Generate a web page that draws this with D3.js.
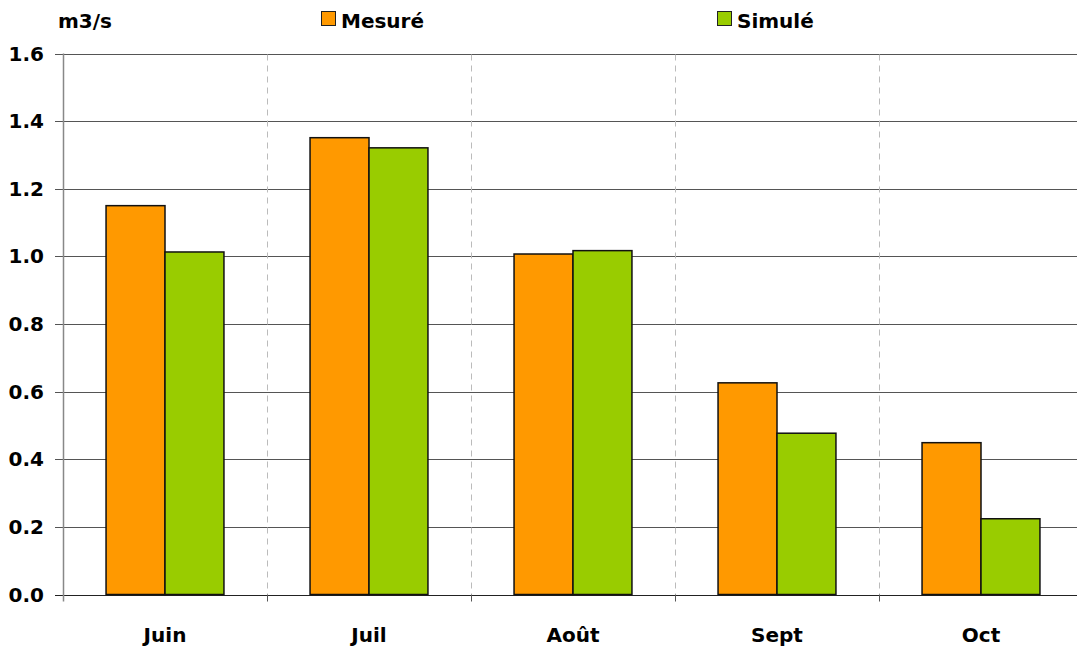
<!DOCTYPE html>
<html><head><meta charset="utf-8">
<script src="https://cdn.jsdelivr.net/npm/d3@7"></script>
<style>body{margin:0;background:#fff}svg{display:block}text{font-family:"DejaVu Sans",sans-serif;font-weight:bold;fill:#000}</style>
</head><body>
<svg id="c" width="1077" height="650"></svg>
<script>
const categories = ["Juin","Juil","Août","Sept","Oct"];
const seriesNames = ["Mesuré","Simulé"];
const mesure = [1.150, 1.351, 1.007, 0.626, 0.449];
const simule = [1.013, 1.321, 1.017, 0.477, 0.224];
const yTicks = [0,0.2,0.4,0.6,0.8,1.0,1.2,1.4,1.6];
const colors = ["#FF9900","#99CC00"];

const svg = d3.select("#c");
const x0 = d3.scaleBand().domain(categories).range([63,1083]).padding(0);
const step = x0.bandwidth();
const x1 = d3.scaleBand().domain(seriesNames).range([step*0.211, step*0.789]).padding(0);
const y = d3.scaleLinear().domain([0,1.6]).range([594.5,53.5]);
const r = v => Math.round(v)+0.5;

// gridlines
svg.append("g").selectAll("line").data(yTicks).join("line")
  .attr("x1",55).attr("x2",1077).attr("y1",d=>r(y(d))).attr("y2",d=>r(y(d)))
  .attr("stroke",d=>d===0?"#222":"#555").attr("stroke-width",1);
// dashed category separators
svg.append("g").selectAll("line").data(categories.slice(1)).join("line")
  .attr("x1",d=>r(x0(d))).attr("x2",d=>r(x0(d)))
  .attr("y1",y(1.6)+1).attr("y2",y(0))
  .attr("stroke","#bbb").attr("stroke-dasharray","6,5");
// bottom ticks
svg.append("g").selectAll("line").data(categories.slice(1)).join("line")
  .attr("x1",d=>r(x0(d))).attr("x2",d=>r(x0(d)))
  .attr("y1",y(0)).attr("y2",y(0)+7).attr("stroke","#555");
// y axis line
svg.append("line").attr("x1",63.5).attr("x2",63.5).attr("y1",y(1.6)).attr("y2",y(0)+7)
  .attr("stroke","#888").attr("stroke-width",1.5);

// bars
const data = categories.map((c,i)=>({c, vals:[{s:seriesNames[0],v:mesure[i],k:0},{s:seriesNames[1],v:simule[i],k:1}]}));
svg.append("g").selectAll("g").data(data).join("g")
  .attr("transform",d=>`translate(${x0(d.c)},0)`)
  .selectAll("rect").data(d=>d.vals).join("rect")
  .attr("x",d=>x1(d.s)).attr("width",x1.bandwidth())
  .attr("y",d=>y(d.v)).attr("height",d=>y(0)-y(d.v))
  .attr("fill",d=>colors[d.k]).attr("stroke","#111").attr("stroke-width",1.5);

// y tick labels
svg.append("g").selectAll("text").data(yTicks).join("text")
  .attr("x",44).attr("y",d=>y(d)+7).attr("text-anchor","end")
  .attr("font-size",20).text(d=>d.toFixed(1));
// x labels
svg.append("g").selectAll("text").data(categories).join("text")
  .attr("x",d=>x0(d)+step/2).attr("y",642).attr("text-anchor","middle")
  .attr("font-size",20).text(d=>d);
// unit
svg.append("text").attr("x",58).attr("y",28).attr("font-size",20).text("m3/s");
// legend
const legX = [321, 717];
seriesNames.forEach((s,i)=>{
  svg.append("rect").attr("x",legX[i]+0.5).attr("y",11.5).attr("width",14).attr("height",14)
    .attr("fill",colors[i]).attr("stroke","#222").attr("stroke-width",1);
  svg.append("text").attr("x",legX[i]+20).attr("y",28).attr("font-size",20).text(s);
});
</script>
</body></html>
